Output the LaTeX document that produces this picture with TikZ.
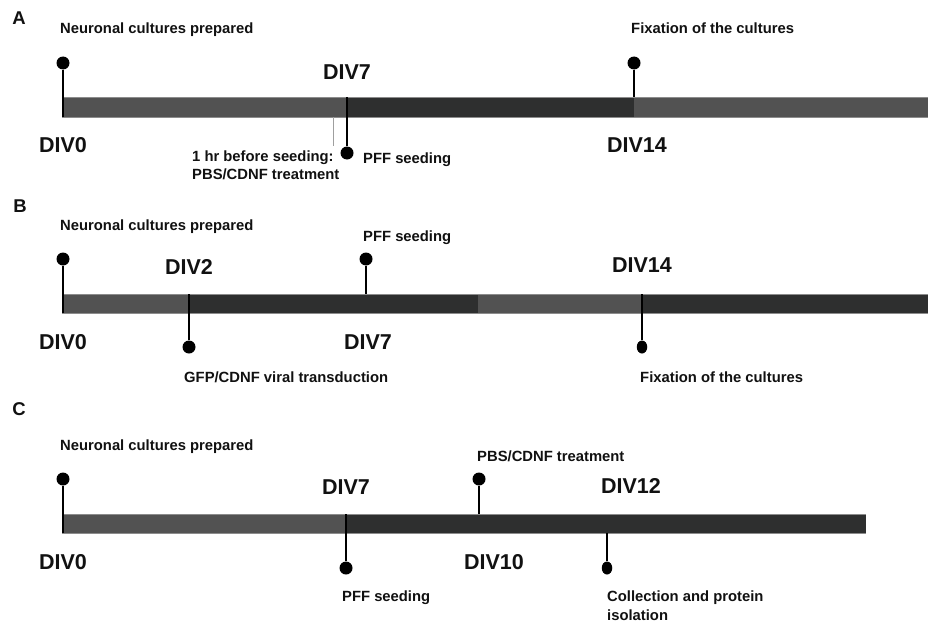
\documentclass[tikz,border=0pt]{standalone}
\usepackage{fontspec}
\setmainfont{Liberation Sans}
\usetikzlibrary{shapes.geometric}
\definecolor{barlight}{HTML}{525252}
\definecolor{bardark}{HTML}{2E2F2F}
\definecolor{baredge}{HTML}{8C8C8C}
\definecolor{ink}{HTML}{111111}
\begin{document}
\begin{tikzpicture}[x=1pt,y=-1pt,
  lbl/.style={font=\bfseries\fontsize{14.8}{18.5}\selectfont, inner sep=0pt, anchor=base west, text=ink, align=left},
  divlbl/.style={font=\bfseries\fontsize{21.5}{24}\selectfont, inner sep=0pt, anchor=base, text=ink},
  panel/.style={font=\bfseries\fontsize{18.5}{22}\selectfont, inner sep=0pt, anchor=base, text=ink},
  dot/.style={circle, fill=black, inner sep=0pt, minimum size=13pt},
  edot/.style={ellipse, fill=black, inner sep=0pt, minimum width=10.5pt, minimum height=13pt},
  stem/.style={line width=1.3pt, draw=black},
  thin/.style={line width=1pt, draw=gray!75},
  edge/.style={line width=0.6pt, draw=baredge}]
\useasboundingbox (0,0) rectangle (928,626);
\fill[white] (0,0) rectangle (928,626);

% ---------------- Panel A ----------------
\node[panel] (pA) at (19,25) {A};
\fill[barlight] (62,97) rectangle (346,117);
\fill[bardark] (346,97) rectangle (634,117);
\fill[barlight] (634,97) rectangle (928,117);
\draw[edge] (62,97) -- (928,97);
\draw[edge] (62,117) -- (928,117);
\node[lbl] (a1) at (60,33.5) {Neuronal cultures prepared};
\node[dot] (ad0) at (63,63) {};
\coordinate (ab0) at (63,117);
\draw[stem] (ad0) -- (ab0);
\node[divlbl] (aDIV0) at (63,152) {DIV0};
\node[divlbl] (aDIV7) at (347,79) {DIV7};
\coordinate (at7) at (347,97);
\node[dot] (ad7) at (347,153) {};
\draw[stem] (ad7) -- (at7);
\coordinate (ag1) at (333,117);
\coordinate (ag2) at (333,146);
\draw[thin] (ag1) -- (ag2);
\node[lbl] (a2) at (192,179.5) {1 hr before seeding:\\PBS/CDNF treatment};
\node[lbl] (a3) at (363,163.5) {PFF seeding};
\node[lbl] (a4) at (631,33.5) {Fixation of the cultures};
\node[dot] (ad14) at (634,63) {};
\coordinate (at14) at (634,97);
\draw[stem] (ad14) -- (at14);
\node[divlbl] (aDIV14) at (637,152) {DIV14};

% ---------------- Panel B ----------------
\node[panel] (pB) at (20,212) {B};
\fill[barlight] (62,294) rectangle (189,313);
\fill[bardark] (189,294) rectangle (478,313);
\fill[barlight] (478,294) rectangle (642,313);
\fill[bardark] (642,294) rectangle (928,313);
\draw[edge] (62,294) -- (928,294);
\draw[edge] (62,313) -- (928,313);
\node[lbl] (b1) at (60,230.5) {Neuronal cultures prepared};
\node[dot] (bd0) at (63,259) {};
\coordinate (bb0) at (63,313);
\draw[stem] (bd0) -- (bb0);
\node[divlbl] (bDIV0) at (63,349) {DIV0};
\node[divlbl] (bDIV2) at (189,274) {DIV2};
\coordinate (bt2) at (189,294);
\node[dot] (bd2) at (189,347) {};
\draw[stem] (bd2) -- (bt2);
\node[lbl] (b2) at (184,382.5) {GFP/CDNF viral transduction};
\node[lbl] (b3) at (363,241.5) {PFF seeding};
\node[dot] (bd7) at (366,259) {};
\coordinate (bt7) at (366,294);
\draw[stem] (bd7) -- (bt7);
\node[divlbl] (bDIV7) at (368,349) {DIV7};
\node[divlbl] (bDIV14) at (642,272) {DIV14};
\coordinate (bt14) at (642,294);
\node[edot] (bd14) at (642,347) {};
\draw[stem] (bd14) -- (bt14);
\node[lbl] (b4) at (640,382.5) {Fixation of the cultures};

% ---------------- Panel C ----------------
\node[panel] (pC) at (19,415) {C};
\fill[barlight] (62,514) rectangle (346,533);
\fill[bardark] (346,514) rectangle (866,533);
\draw[edge] (62,514) -- (866,514);
\draw[edge] (62,533) -- (866,533);
\node[lbl] (c1) at (60,450.5) {Neuronal cultures prepared};
\node[dot] (cd0) at (63,479) {};
\coordinate (cb0) at (63,533);
\draw[stem] (cd0) -- (cb0);
\node[divlbl] (cDIV0) at (63,569) {DIV0};
\node[divlbl] (cDIV7) at (346,494) {DIV7};
\coordinate (ct7) at (346,514);
\node[dot] (cd7) at (346,568) {};
\draw[stem] (cd7) -- (ct7);
\node[lbl] (c2) at (342,601.5) {PFF seeding};
\node[lbl] (c3) at (477,461.5) {PBS/CDNF treatment};
\node[dot] (cd10) at (479,479) {};
\coordinate (ct10) at (479,514);
\draw[stem] (cd10) -- (ct10);
\node[divlbl] (cDIV10) at (494,569) {DIV10};
\node[divlbl] (cDIV12) at (631,493) {DIV12};
\coordinate (cb12) at (607,533);
\node[edot] (cd12) at (607,568) {};
\draw[stem] (cd12) -- (cb12);
\node[lbl] (c4) at (607,620) {Collection and protein\\isolation};
\end{tikzpicture}
\end{document}
